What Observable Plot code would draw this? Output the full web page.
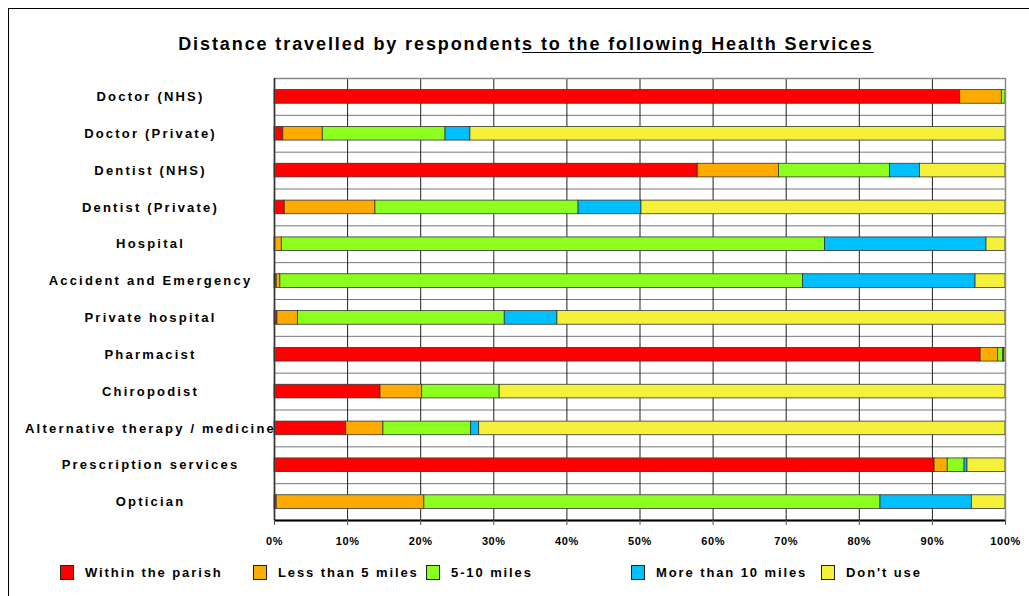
<!DOCTYPE html>
<html><head><meta charset="utf-8">
<script src="https://cdn.jsdelivr.net/npm/d3@7"></script>
<script src="https://cdn.jsdelivr.net/npm/@observablehq/plot@0.6"></script>
<style>
body{margin:0;background:#fff;font-family:"Liberation Sans",Arial,sans-serif;}
#wrap{position:relative;width:1029px;height:596px;overflow:hidden;background:#fff;}
#border{position:absolute;left:8px;top:8px;width:1060px;height:640px;border:1.5px solid #000;box-sizing:border-box;}
#title{position:absolute;left:0;width:1052px;top:34px;text-align:center;font-weight:bold;font-size:18px;letter-spacing:1.9px;color:#000;}
#title u{text-underline-offset:2px;}
#chart{position:absolute;left:0;top:0;}
#legend{position:absolute;top:565px;left:0;font-weight:bold;font-size:13px;color:#000;}
.item{position:absolute;top:0;display:flex;align-items:center;white-space:nowrap;letter-spacing:1.9px;}
.sw{width:14px;height:15px;border:1px solid #222;margin-right:11px;box-sizing:border-box;}
g[aria-label="y-axis tick label"] text{letter-spacing:2.2px;}
g[aria-label="x-axis tick label"] text{letter-spacing:0.6px;}
</style>
</head><body>
<div id="wrap">
  <div id="border"></div>
  <div id="chart"></div>
  <div id="title">Distance travelled by respondent<u>s to the following Health Services</u></div>
  <div id="legend"></div>
</div>
<script>
const categories = ["Doctor (NHS)","Doctor (Private)","Dentist (NHS)","Dentist (Private)","Hospital","Accident and Emergency","Private hospital","Pharmacist","Chiropodist","Alternative therapy / medicine","Prescription services","Optician"];
const series = ["Within the parish","Less than 5 miles","5-10 miles","More than 10 miles","Don't use"];
const colors = ["#FF0000","#FFAA00","#8CFF1E","#00BFFF","#F5F03A"];
const withinParish = [93.8,1.2,57.9,1.4,0.1,0.3,0.4,96.6,14.5,9.8,90.3,0.3];
const lessThan5    = [5.7,5.4,11.1,12.4,0.9,0.5,2.8,2.4,5.7,5.1,1.8,20.2];
const fiveToTen    = [0.5,16.8,15.2,27.8,74.3,71.5,28.3,0.7,10.6,12.0,2.3,62.4];
const moreThan10   = [0,3.4,4.1,8.6,22.1,23.6,7.2,0.1,0,1.1,0.4,12.5];
const dontUse      = [0,73.2,11.7,49.8,2.6,4.1,61.3,0.2,69.2,72.0,5.2,4.6];
const xTicks = [0,10,20,30,40,50,60,70,80,90,100];
const xTickLabels = ["0%","10%","20%","30%","40%","50%","60%","70%","80%","90%","100%"];
const legendX = [60,253,426,631,821];

const seriesValues = [withinParish,lessThan5,fiveToTen,moreThan10,dontUse];
const table = [];
categories.forEach((c,i)=>series.forEach((s,j)=>table.push({category:c, series:s, value:seriesValues[j][i]})));

const W=1029,H=596,mt=78,mb=76,ml=274,mr=24;
const step=(H-mt-mb)/categories.length;

const chart = Plot.plot({
  width:W,height:H,marginLeft:ml,marginRight:mr,marginTop:mt,marginBottom:mb,
  style:{fontFamily:"'Liberation Sans',Arial,sans-serif",background:"transparent",color:"#000"},
  x:{domain:[0,100]},
  y:{domain:categories,paddingInner:0.63,paddingOuter:0.315,round:false},
  color:{domain:series,range:colors},
  marks:[
    Plot.ruleY(categories.slice(1),{y:d=>d,dy:-step/2,stroke:"#777",strokeWidth:1}),
    Plot.ruleX(xTicks.slice(1,-1),{stroke:"#222",strokeWidth:1}),
    Plot.barX(table,Plot.stackX({y:"category",x:"value",fill:"series",order:series,stroke:"#333",strokeWidth:0.8})),
    Plot.frame({stroke:"#888",strokeWidth:1.5}),
    Plot.ruleX([0],{stroke:"#333",strokeWidth:1.5}),
    Plot.ruleY([categories[categories.length-1]],{y:d=>d,dy:step/2,stroke:"#000",strokeWidth:2}),
    Plot.axisX({ticks:xTicks,tickFormat:(d)=>xTickLabels[xTicks.indexOf(d)],tickSize:5,tickPadding:12,fontSize:11,fontWeight:"bold",stroke:"#555",label:null}),
    Plot.axisY({tickSize:0,tickPadding:124,textAnchor:"middle",fontSize:13,fontWeight:"bold",label:null})
  ]
});
document.getElementById("chart").appendChild(chart);

const leg=document.getElementById("legend");
series.forEach((s,i)=>{
  const it=document.createElement("div");
  it.className="item";
  it.style.left=legendX[i]+"px";
  const sw=document.createElement("span");
  sw.className="sw";sw.style.background=colors[i];
  const t=document.createElement("span");t.textContent=s;
  it.appendChild(sw);it.appendChild(t);leg.appendChild(it);
});
</script>
</body></html>
